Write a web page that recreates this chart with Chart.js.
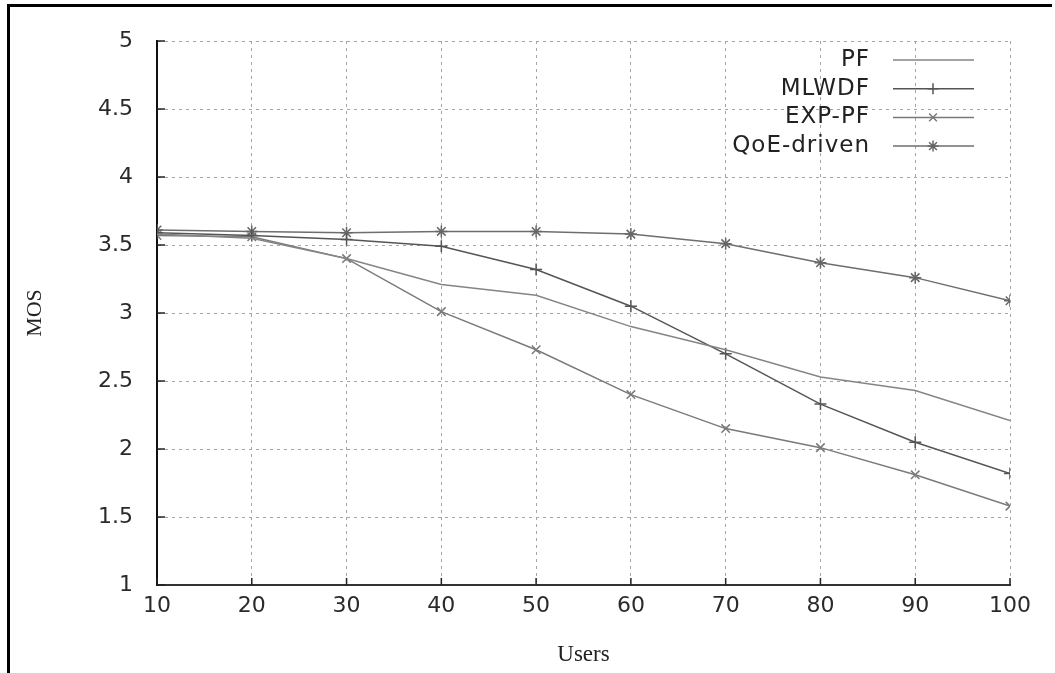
<!DOCTYPE html>
<html>
<head>
<meta charset="utf-8">
<script src="https://cdn.jsdelivr.net/npm/chart.js@4.4.0/dist/chart.umd.min.js"></script>
<style>
html, body { margin: 0; padding: 0; background: #fff; }
#wrap { position: relative; width: 1055px; height: 673px; }
#frame { position: absolute; left: 7px; top: 4px; right: 3px; bottom: 0; border-top: 3px solid #000; border-left: 3px solid #000; pointer-events: none; }
</style>
</head>
<body>
<div id="wrap">
  <canvas id="mosChart" width="1055" height="673"></canvas>
  <div id="frame"></div>
</div>
<script>
const users = [10, 20, 30, 40, 50, 60, 70, 80, 90, 100];
const pf = [3.58, 3.55, 3.40, 3.21, 3.13, 2.90, 2.73, 2.53, 2.43, 2.21];
const mlwdf = [3.59, 3.57, 3.54, 3.49, 3.32, 3.05, 2.70, 2.33, 2.05, 1.82];
const expPf = [3.57, 3.56, 3.40, 3.01, 2.73, 2.40, 2.15, 2.01, 1.81, 1.58];
const qoeDriven = [3.61, 3.60, 3.59, 3.60, 3.60, 3.58, 3.51, 3.37, 3.26, 3.09];

const toPoints = vals => users.map((u, i) => ({ x: u, y: vals[i] }));

// gnuplot style ticks pointing inside the plot
const innerTicks = {
    id: 'innerTicks',
    afterDraw(chart) {
        const { ctx, chartArea: a, scales: { x, y } } = chart;
        ctx.save();
        ctx.strokeStyle = '#222';
        ctx.lineWidth = 1.5;
        ctx.beginPath();
        y.ticks.forEach(t => {
            const py = y.getPixelForValue(t.value);
            ctx.moveTo(a.left, py);
            ctx.lineTo(a.left + 8, py);
        });
        x.ticks.forEach(t => {
            const px = x.getPixelForValue(t.value);
            ctx.moveTo(px, a.bottom);
            ctx.lineTo(px, a.bottom - 7);
        });
        ctx.stroke();
        ctx.restore();
    }
};

// legend: text right aligned, sample line with marker on the right
const keyBox = {
    id: 'keyBox',
    afterDraw(chart) {
        const ctx = chart.ctx;
        const right = chart.chartArea.right;
        chart.data.datasets.forEach((ds, i) => {
            const yy = 60 + i * 28.7;
            ctx.save();
            ctx.font = '23px "DejaVu Sans"';
            ctx.letterSpacing = '1px';
            ctx.fillStyle = '#222';
            ctx.textAlign = 'right';
            ctx.textBaseline = 'middle';
            ctx.fillText(ds.label, right - 140, yy);
            ctx.restore();

            ctx.save();
            ctx.strokeStyle = ds.borderColor;
            ctx.lineWidth = 1.5;
            ctx.beginPath();
            ctx.moveTo(right - 117, yy);
            ctx.lineTo(right - 36, yy);
            ctx.stroke();
            if (ds.pointRadius > 0 && Chart.helpers && Chart.helpers.drawPoint) {
                ctx.strokeStyle = ds.pointBorderColor;
                ctx.fillStyle = ds.pointBorderColor;
                Chart.helpers.drawPoint(ctx, {
                    pointStyle: ds.pointStyle,
                    radius: 5.5,
                    borderWidth: 1.5,
                    rotation: 0
                }, right - 77, yy);
            }
            ctx.restore();
        });
    }
};

const ctxMos = document.getElementById('mosChart').getContext('2d');
const mosChart = new Chart(ctxMos, {
    type: 'line',
    data: {
        datasets: [{
            label: 'PF',
            data: toPoints(pf),
            borderColor: '#858585',
            pointBorderColor: '#858585',
            borderWidth: 1.5,
            pointRadius: 0
        }, {
            label: 'MLWDF',
            data: toPoints(mlwdf),
            borderColor: '#555555',
            pointBorderColor: '#555555',
            borderWidth: 1.5,
            pointStyle: 'cross',
            pointRadius: 6,
            pointBorderWidth: 1.5
        }, {
            label: 'EXP-PF',
            data: toPoints(expPf),
            borderColor: '#7a7a7a',
            pointBorderColor: '#7a7a7a',
            borderWidth: 1.5,
            pointStyle: 'crossRot',
            pointRadius: 6,
            pointBorderWidth: 1.5
        }, {
            label: 'QoE-driven',
            data: toPoints(qoeDriven),
            borderColor: '#6e6e6e',
            pointBorderColor: '#666666',
            borderWidth: 1.5,
            pointStyle: 'star',
            pointRadius: 6,
            pointBorderWidth: 1.5
        }]
    },
    options: {
        responsive: false,
        animation: false,
        layout: { padding: { top: 41, right: 45, bottom: 0, left: 0 } },
        plugins: {
            legend: { display: false },
            tooltip: { enabled: false }
        },
        scales: {
            x: {
                type: 'linear',
                min: 10,
                max: 100,
                afterFit: s => { s.height = 88; },
                ticks: {
                    stepSize: 10,
                    padding: 8,
                    color: '#2a2a2a',
                    font: { family: '"DejaVu Sans"', size: 22 }
                },
                grid: { color: '#a5a5a5', lineWidth: 1, drawTicks: false },
                border: { display: true, color: '#333', width: 2, dash: [3, 4] },
                title: {
                    display: true,
                    text: 'Users',
                    color: '#222',
                    font: { family: '"Liberation Serif"', size: 23 },
                    padding: { top: 0, bottom: 4 }
                }
            },
            y: {
                min: 1,
                max: 5,
                afterFit: s => { s.width = 157; },
                ticks: {
                    stepSize: 0.5,
                    padding: 24,
                    color: '#2a2a2a',
                    font: { family: '"DejaVu Sans"', size: 22 },
                    callback: v => String(v)
                },
                grid: { color: '#a5a5a5', lineWidth: 1, drawTicks: false },
                border: { display: true, color: '#111', width: 2, dash: [3, 4] },
                title: {
                    display: true,
                    text: 'MOS',
                    color: '#222',
                    font: { family: '"Liberation Serif"', size: 22 },
                    padding: { top: 22, bottom: 0 }
                }
            }
        }
    },
    plugins: [innerTicks, keyBox]
});
</script>
</body>
</html>
